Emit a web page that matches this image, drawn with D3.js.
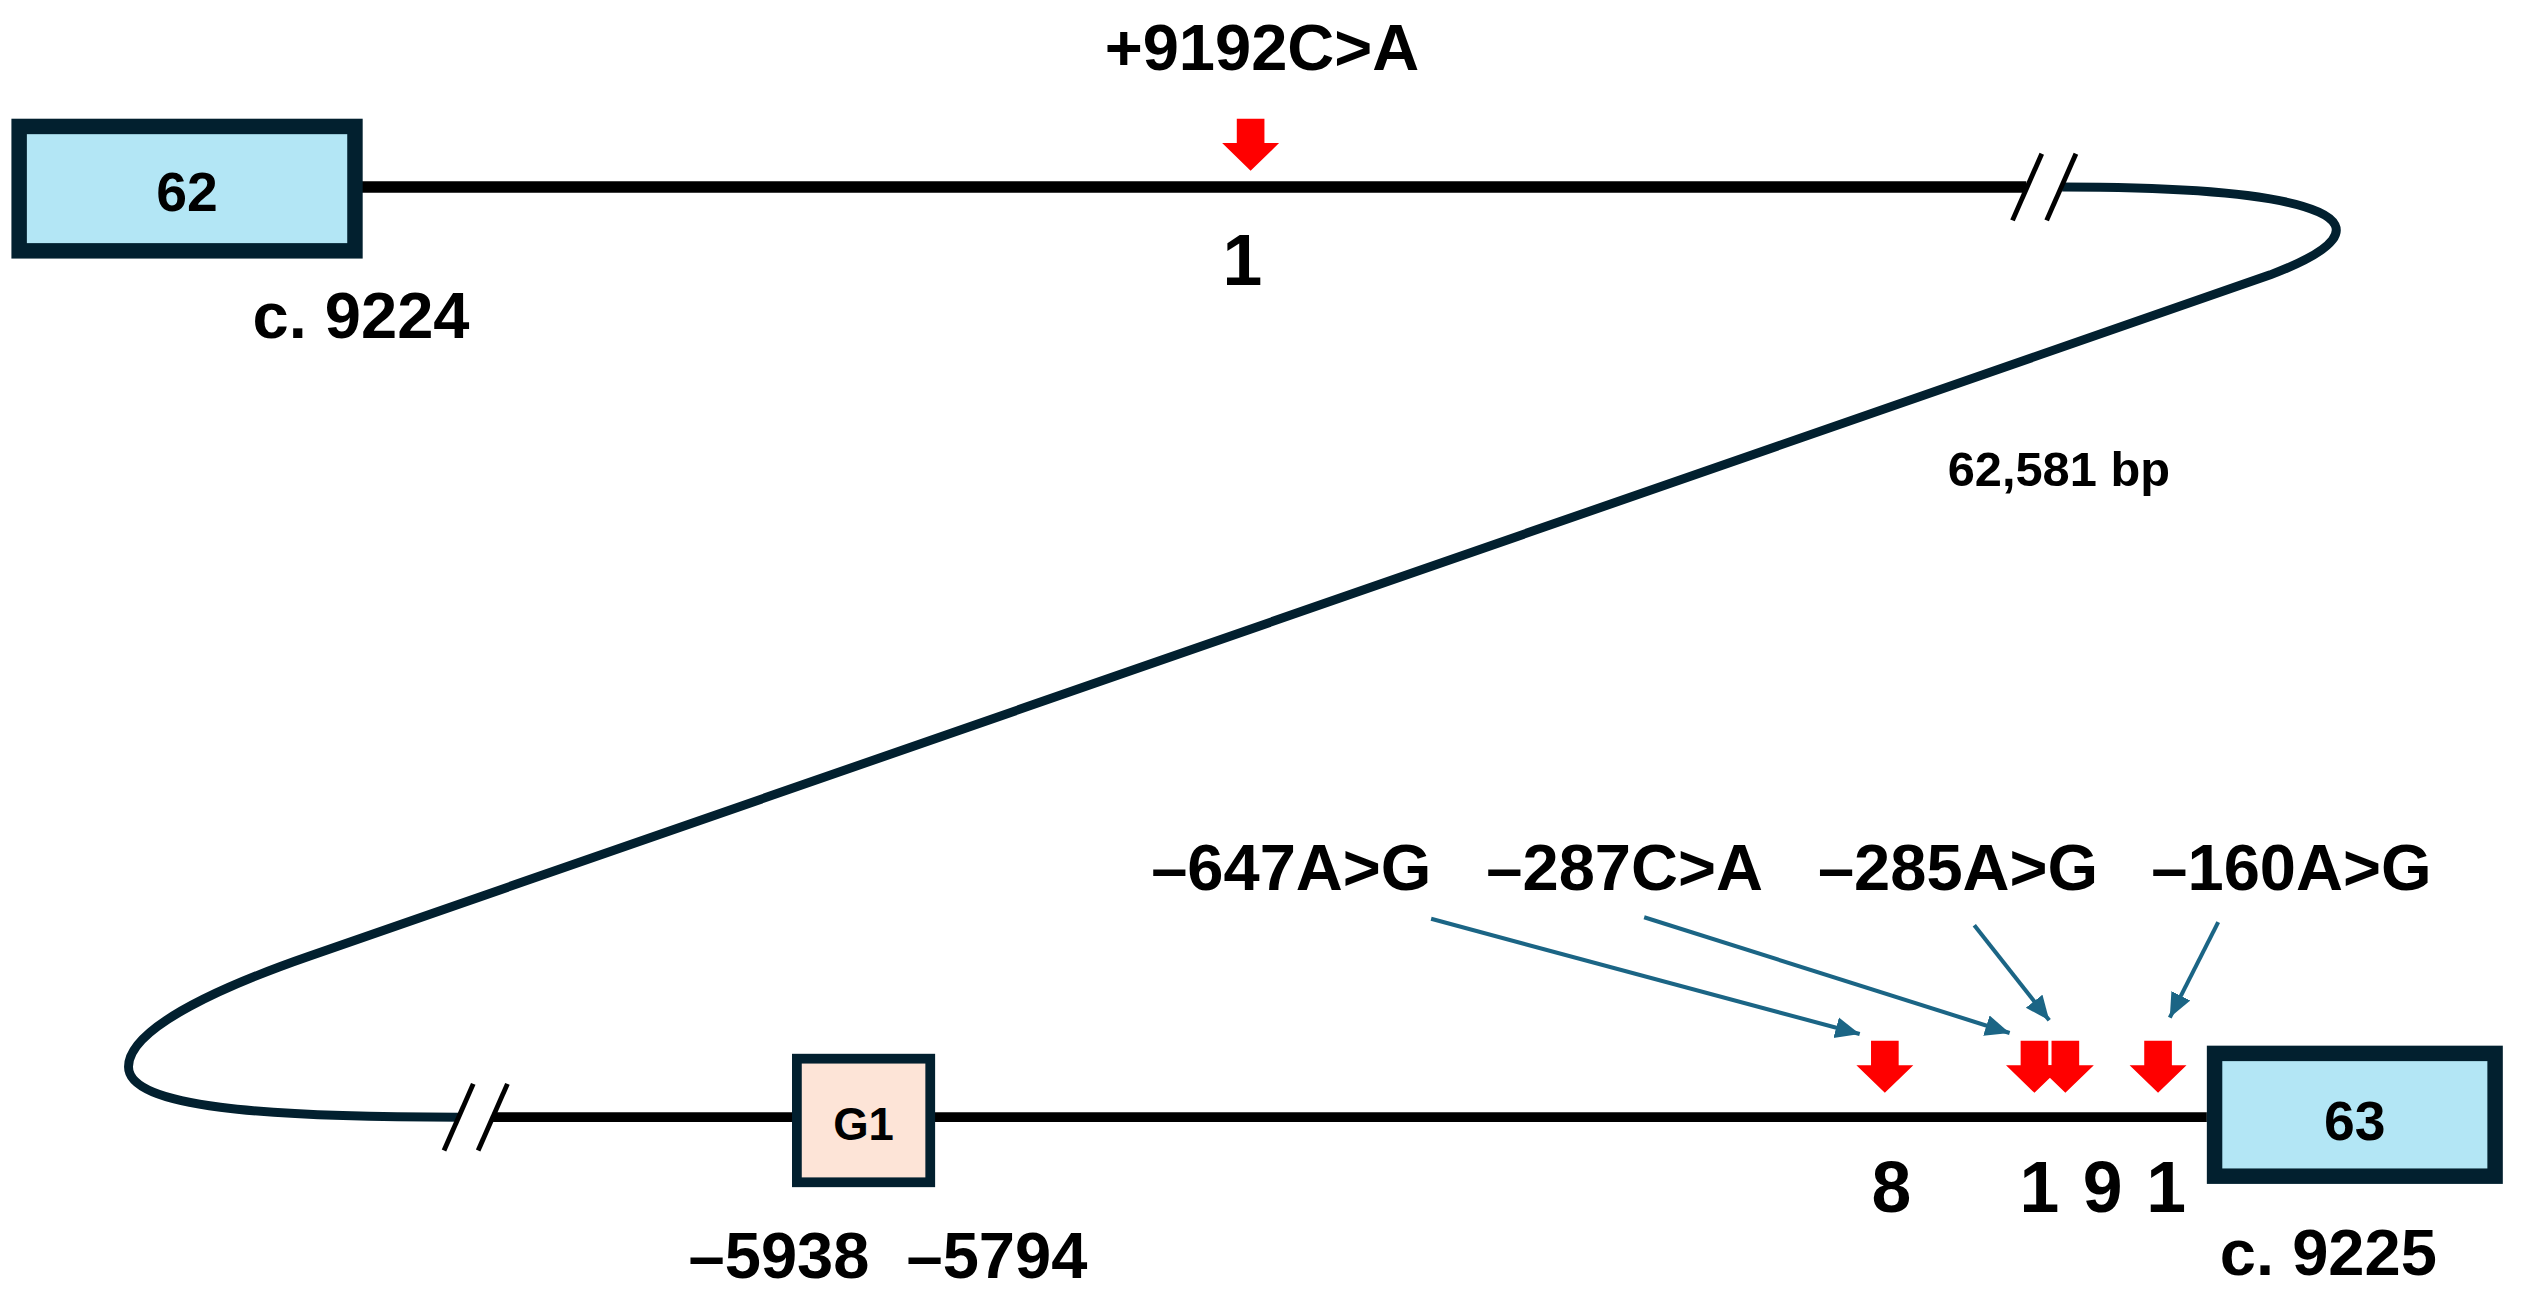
<!DOCTYPE html>
<html>
<head>
<meta charset="utf-8">
<script src="https://cdn.jsdelivr.net/npm/d3@7"></script>
<style>
  body { margin: 0; background: #fff; }
  text { font-family: "Liberation Sans", Arial, Helvetica, sans-serif; font-weight: bold; fill: #000; }
</style>
</head>
<body>
<div id="chart"></div>
<script>
// ---- data ----
const exonLabels = ['62', '63'];
const exonCoords = ['c. 9224', 'c. 9225'];
const upstreamLabels = ['+9192C>A'];
const upstreamPos = [9192];
const upstreamCounts = [1];
const variantLabels = ['–647A>G', '–287C>A', '–285A>G', '–160A>G'];
const variantPos = [-647, -287, -285, -160];
const variantCounts = [8, 1, 9, 1];
const g1Label = 'G1';
const g1Bounds = [-5938, -5794];
const intronLength = 62581;

// ---- layout ----
const W = 1560, H = 795.7;
const topY = 115, botY = 687;
const navy = '#02202f', red = '#ff0000', teal = '#1b6585';

const svg = d3.select('#chart').append('svg')
  .attr('width', 2537).attr('height', 1294)
  .attr('viewBox', `0 0 ${W} ${H}`);

// upper strand: intron after exon 62, lower strand: region before exon 63
const xTop = d3.scaleLinear().domain([0, upstreamPos[0]]).range([222, 769]);
const xBot = d3.scaleLinear()
  .domain([g1Bounds[0], g1Bounds[1], ...variantPos, 0])
  .range([487, 575, 1159, 1251, 1270, 1327, 1357]);

const topBreak = 1257, botBreak = 292.5;

// lines
svg.append('line').attr('x1', xTop(0)).attr('x2', topBreak - 11)
  .attr('y1', topY).attr('y2', topY)
  .attr('stroke', '#000').attr('stroke-width', 7);
svg.append('line').attr('x1', botBreak + 10.5).attr('x2', xBot(0))
  .attr('y1', botY).attr('y2', botY)
  .attr('stroke', '#000').attr('stroke-width', 6);

// the long intron loop
const loop = d3.path();
const S = [topBreak + 11, topY], A = [1396, 169], B = [190, 588], L = [79, 656], E = [botBreak - 10.5, botY];
loop.moveTo(...S);
loop.bezierCurveTo(1436, topY, 1478, 138, ...A);
loop.lineTo(...B);
loop.bezierCurveTo(142.75, 604.4, 79, 631, ...L);
loop.bezierCurveTo(79, 681, 162, botY, ...E);
svg.append('path').attr('d', loop.toString())
  .attr('fill', 'none').attr('stroke', navy).attr('stroke-width', 5.5);

// break marks
function breakMark(cx, cy) {
  [-10.5, 10.5].forEach(dx => {
    svg.append('line')
      .attr('x1', cx + dx + 9).attr('y1', cy - 20.5)
      .attr('x2', cx + dx - 9).attr('y2', cy + 20.5)
      .attr('stroke', '#000').attr('stroke-width', 3);
  });
}
breakMark(topBreak, topY);
breakMark(botBreak, botY);

svg.append('text').attr('x', 1266).attr('y', 299)
  .attr('text-anchor', 'middle').style('font-size', '30px')
  .text(d3.format(',')(intronLength) + ' bp');

// boxes
function box(x0, x1, y0, y1, sw, fill) {
  svg.append('rect')
    .attr('x', x0 + sw / 2).attr('y', y0 + sw / 2)
    .attr('width', x1 - x0 - sw).attr('height', y1 - y0 - sw)
    .attr('fill', fill).attr('stroke', navy).attr('stroke-width', sw);
}
box(xTop(0) - 215, xTop(0) + 1, 73, 159, 9.5, '#b3e6f5');
box(xBot(0), xBot(0) + 182, 643, 728, 9.5, '#b3e6f5');
box(xBot(g1Bounds[0]), xBot(g1Bounds[1]), 648, 730, 6, '#fde4d7');

svg.append('text').attr('x', xTop(0) - 107).attr('y', 130)
  .attr('text-anchor', 'middle').style('font-size', '34px').text(exonLabels[0]);
svg.append('text').attr('x', xBot(0) + 91).attr('y', 701)
  .attr('text-anchor', 'middle').style('font-size', '34px').text(exonLabels[1]);
svg.append('text').attr('x', (xBot(g1Bounds[0]) + xBot(g1Bounds[1])) / 2).attr('y', 701)
  .attr('text-anchor', 'middle').style('font-size', '28px').text(g1Label);

svg.append('text').attr('x', xTop(0)).attr('y', 208)
  .attr('text-anchor', 'middle').style('font-size', '40px').text(exonCoords[0]);
svg.append('text').attr('x', xBot(0) + 8).attr('y', 784)
  .attr('text-anchor', 'start').style('font-size', '40px').text(exonCoords[1]);

svg.append('text').attr('x', xBot(g1Bounds[0]) - 8).attr('y', 786)
  .attr('text-anchor', 'middle').style('font-size', '40px').text(g1Bounds[0].toString().replace('-', '–'));
svg.append('text').attr('x', xBot(g1Bounds[1]) + 38).attr('y', 786)
  .attr('text-anchor', 'middle').style('font-size', '40px').text(g1Bounds[1].toString().replace('-', '–'));

// red variant arrows
function arrowPoints(x, tip) {
  return [[x - 8.5, tip - 32], [x + 8.5, tip - 32], [x + 8.5, tip - 17], [x + 17.5, tip - 17],
          [x, tip], [x - 17.5, tip - 17], [x - 8.5, tip - 17]].map(p => p.join(',')).join(' ');
}
svg.selectAll('.up-arrow').data(upstreamPos).enter().append('polygon')
  .attr('class', 'up-arrow').attr('points', d => arrowPoints(xTop(d), 105)).attr('fill', red);
svg.selectAll('.up-label').data(upstreamLabels).enter().append('text')
  .attr('x', (d, i) => xTop(upstreamPos[i]) + 7).attr('y', 43)
  .attr('text-anchor', 'middle').style('font-size', '40px').text(d => d);
svg.selectAll('.up-count').data(upstreamCounts).enter().append('text')
  .attr('x', (d, i) => xTop(upstreamPos[i]) - 5).attr('y', 175)
  .attr('text-anchor', 'middle').style('font-size', '44px').text(d => d);

svg.selectAll('.bot-arrow').data(variantPos).enter().append('polygon')
  .attr('class', 'bot-arrow').attr('points', d => arrowPoints(xBot(d), 672)).attr('fill', red);

// counts pushed apart so neighbours don't collide
const countX = [];
variantPos.forEach((p, i) => {
  const x = xBot(p);
  countX.push(i === 0 ? x + 4 : Math.max(x + 3, countX[i - 1] + 39));
});
svg.selectAll('.bot-count').data(variantCounts).enter().append('text')
  .attr('x', (d, i) => countX[i]).attr('y', 745)
  .attr('text-anchor', 'middle').style('font-size', '44px').text(d => d);

// labels and leader arrows
const labelX = d3.scalePoint().domain(variantLabels).range([794, 1409]);
const leaderDx = [86, 12, 10, -45];
const leaderY = [565, 564, 569, 567];

svg.append('defs').append('marker')
  .attr('id', 'head').attr('viewBox', '0 -7 15 14')
  .attr('refX', 15).attr('refY', 0)
  .attr('markerUnits', 'userSpaceOnUse')
  .attr('markerWidth', 15).attr('markerHeight', 14)
  .attr('orient', 'auto')
  .append('path').attr('d', 'M0,-6.5L15,0L0,6.5Z').attr('fill', teal);

svg.selectAll('.var-label').data(variantLabels).enter().append('text')
  .attr('x', d => labelX(d)).attr('y', 547)
  .attr('text-anchor', 'middle').style('font-size', '40px').text(d => d);

svg.selectAll('.leader').data(variantLabels).enter().append('line')
  .each(function (d, i) {
    const x0 = labelX(d) + leaderDx[i], y0 = leaderY[i];
    const tx = xBot(variantPos[i]), ty = 640;
    const len = Math.hypot(tx - x0, ty - y0);
    const back = 16;
    d3.select(this)
      .attr('x1', x0).attr('y1', y0)
      .attr('x2', tx - (tx - x0) / len * back)
      .attr('y2', ty - (ty - y0) / len * back);
  })
  .attr('stroke', teal).attr('stroke-width', 2.5)
  .attr('marker-end', 'url(#head)');
</script>
</body>
</html>
